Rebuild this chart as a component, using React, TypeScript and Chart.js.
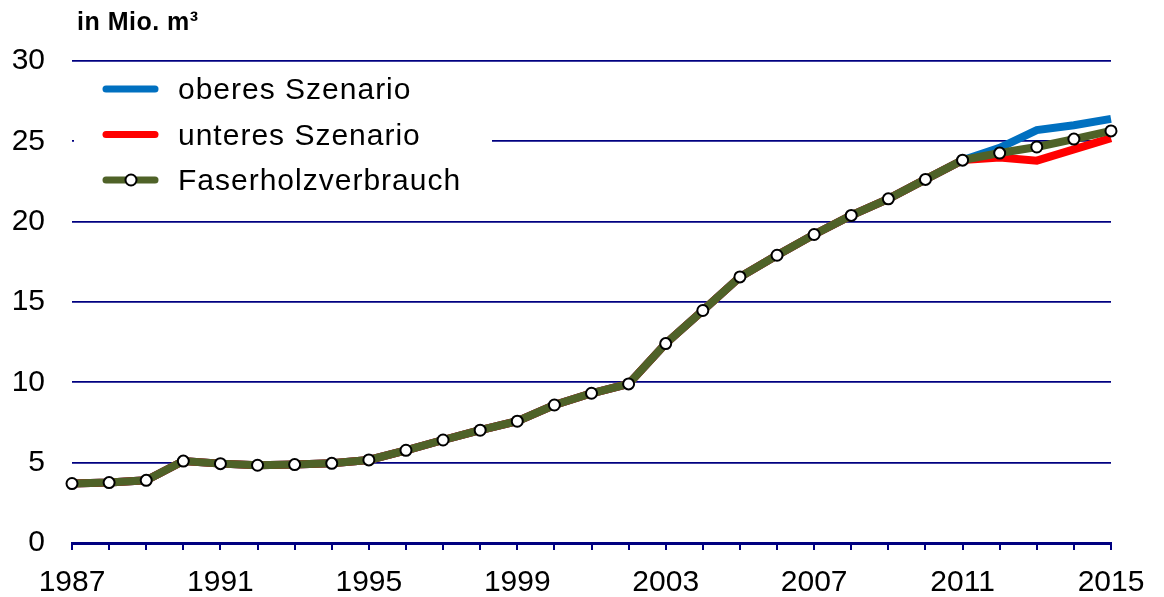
import React, { useEffect, useRef } from "react";
import { Chart, registerables } from "chart.js";

Chart.register(...registerables);

const years = [
  "1987", "1988", "1989", "1990", "1991", "1992", "1993", "1994", "1995", "1996",
  "1997", "1998", "1999", "2000", "2001", "2002", "2003", "2004", "2005", "2006",
  "2007", "2008", "2009", "2010", "2011", "2012", "2013", "2014", "2015",
];

const faserholz = [
  3.7, 3.76, 3.9, 5.1, 4.94, 4.84, 4.88, 4.96, 5.17, 5.77,
  6.41, 7.02, 7.58, 8.59, 9.32, 9.9, 12.41, 14.47, 16.56, 17.91,
  19.2, 20.39, 21.42, 22.63, 23.83, 24.27, 24.65, 25.14, 25.65,
];

const oberes = [
  3.7, 3.76, 3.9, 5.1, 4.94, 4.84, 4.88, 4.96, 5.17, 5.77,
  6.41, 7.02, 7.58, 8.59, 9.32, 9.9, 12.41, 14.47, 16.56, 17.91,
  19.2, 20.39, 21.42, 22.63, 23.83, 24.6, 25.7, 26.0, 26.4,
];

const unteres = [
  3.7, 3.76, 3.9, 5.1, 4.94, 4.84, 4.88, 4.96, 5.17, 5.77,
  6.41, 7.02, 7.58, 8.59, 9.32, 9.9, 12.41, 14.47, 16.56, 17.91,
  19.2, 20.39, 21.42, 22.63, 23.83, 24.0, 23.8, 24.5, 25.2,
];

const xTickLabels = ["1987", "1991", "1995", "1999", "2003", "2007", "2011", "2015"];
const yTicks = [0, 5, 10, 15, 20, 25, 30];
const unitLabel = "in Mio. m³";
const seriesLabels = ["oberes Szenario", "unteres Szenario", "Faserholzverbrauch"];
const seriesColors = ["#0070C0", "#FF0000", "#4F6228"];

const FONT = '"Liberation Sans", Arial, sans-serif';
const NAVY = "#000080";

const legendPlugin = {
  id: "customLegend",
  beforeDatasetsDraw(chart: any) {
    const ctx = chart.ctx as any;
    const left = chart.chartArea.left;
    const top = chart.chartArea.top;
    ctx.save();
    ctx.fillStyle = "#ffffff";
    ctx.fillRect(left + 2, top + 6, 418, 138);
    seriesLabels.forEach((label, i) => {
      const y = top + 28 + i * 45.5;
      ctx.strokeStyle = seriesColors[i];
      ctx.lineWidth = 7;
      ctx.lineCap = "round";
      ctx.beginPath();
      ctx.moveTo(left + 34, y);
      ctx.lineTo(left + 83, y);
      ctx.stroke();
      if (i === 2) {
        ctx.beginPath();
        ctx.arc(left + 59, y, 5.5, 0, Math.PI * 2);
        ctx.fillStyle = "#ffffff";
        ctx.fill();
        ctx.lineWidth = 2;
        ctx.strokeStyle = "#000000";
        ctx.stroke();
      }
      ctx.fillStyle = "#000000";
      ctx.font = `30px ${FONT}`;
      ctx.letterSpacing = "1px";
      ctx.textAlign = "left";
      ctx.textBaseline = "middle";
      ctx.fillText(label, left + 106, y + 2);
    });
    ctx.restore();
  },
  afterDraw(chart: any) {
    const ctx = chart.ctx as any;
    ctx.save();
    ctx.fillStyle = "#000000";
    ctx.font = `bold 25px ${FONT}`;
    ctx.letterSpacing = "0.5px";
    ctx.textAlign = "left";
    ctx.textBaseline = "middle";
    ctx.fillText(unitLabel, chart.chartArea.left + 5, 23);
    ctx.restore();
  },
};

export default function App() {
  const canvasRef = useRef<HTMLCanvasElement | null>(null);

  useEffect(() => {
    if (!canvasRef.current) return;
    const chart = new Chart(canvasRef.current, {
      type: "line",
      data: {
        labels: years,
        datasets: [
          {
            label: seriesLabels[0],
            data: oberes,
            borderColor: seriesColors[0],
            backgroundColor: seriesColors[0],
            borderWidth: 8,
            pointRadius: 0,
            tension: 0,
            order: 2,
            clip: false as any,
          },
          {
            label: seriesLabels[1],
            data: unteres,
            borderColor: seriesColors[1],
            backgroundColor: seriesColors[1],
            borderWidth: 8,
            pointRadius: 0,
            tension: 0,
            order: 1,
            clip: false as any,
          },
          {
            label: seriesLabels[2],
            data: faserholz,
            borderColor: seriesColors[2],
            backgroundColor: "#ffffff",
            borderWidth: 8,
            pointRadius: 5.5,
            pointBorderWidth: 2,
            pointBackgroundColor: "#ffffff",
            pointBorderColor: "#000000",
            tension: 0,
            order: 0,
            clip: false as any,
          },
        ],
      },
      options: {
        responsive: false,
        animation: false,
        devicePixelRatio: 1,
        layout: { padding: { top: 61, right: 53, left: 0, bottom: 0 } },
        plugins: {
          legend: { display: false },
          tooltip: { enabled: false },
          title: { display: false },
        },
        scales: {
          x: {
            type: "category",
            offset: false,
            grid: {
              drawOnChartArea: false,
              drawTicks: true,
              tickLength: 7,
              color: NAVY,
              lineWidth: 2,
            },
            border: { display: true, color: NAVY, width: 3 },
            ticks: {
              autoSkip: false,
              maxRotation: 0,
              minRotation: 0,
              padding: 15,
              color: "#000000",
              font: { family: FONT, size: 30 },
              callback: (_v: any, idx: number) =>
                xTickLabels.includes(years[idx]) ? years[idx] : "",
            },
            afterFit: (s: any) => {
              s.height = 54;
            },
          },
          y: {
            min: yTicks[0],
            max: yTicks[yTicks.length - 1],
            grid: {
              drawTicks: false,
              color: NAVY,
              lineWidth: 1.8,
            },
            border: { display: false },
            ticks: {
              stepSize: 5,
              padding: 27,
              color: "#000000",
              font: { family: FONT, size: 30 },
            },
            afterFit: (s: any) => {
              s.width = 72;
            },
          },
        },
      },
      plugins: [legendPlugin],
    });
    return () => chart.destroy();
  }, []);

  return (
    <div style={{ position: "absolute", left: 0, top: 0, width: 1164, height: 597, background: "#fff" }}>
      <canvas ref={canvasRef} width={1164} height={597} />
    </div>
  );
}
